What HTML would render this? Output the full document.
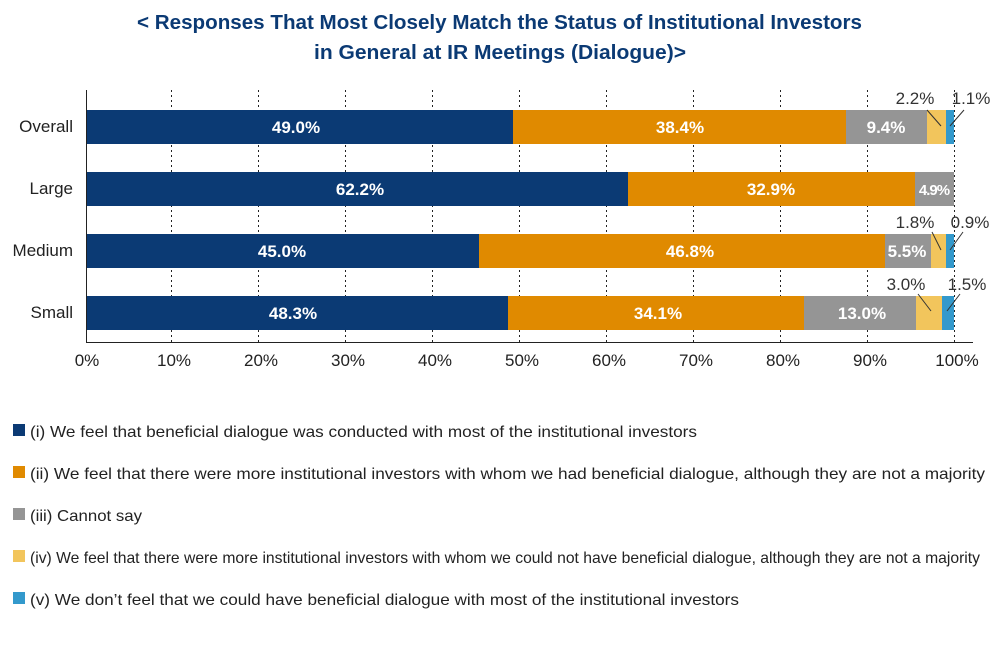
<!DOCTYPE html>
<html><head><meta charset="utf-8"><style>
body{margin:0;width:1000px;height:645px;background:#fff;font-family:"Liberation Sans",sans-serif;overflow:hidden}
</style></head><body>
<svg width="1000" height="645" xmlns="http://www.w3.org/2000/svg" font-family="Liberation Sans, sans-serif">
<text x="137" y="29" textLength="725" lengthAdjust="spacingAndGlyphs" font-size="20" font-weight="bold" fill="#0b3a74">&lt; Responses That Most Closely Match the Status of Institutional Investors</text>
<text x="314" y="59" textLength="372" lengthAdjust="spacingAndGlyphs" font-size="20" font-weight="bold" fill="#0b3a74">in General at IR Meetings (Dialogue)&gt;</text>
<g stroke="#222" stroke-dasharray="2,3" stroke-width="1">
<line x1="171.5" y1="90" x2="171.5" y2="342"/><line x1="258.5" y1="90" x2="258.5" y2="342"/><line x1="345.5" y1="90" x2="345.5" y2="342"/><line x1="432.5" y1="90" x2="432.5" y2="342"/><line x1="519.5" y1="90" x2="519.5" y2="342"/><line x1="606.5" y1="90" x2="606.5" y2="342"/><line x1="693.5" y1="90" x2="693.5" y2="342"/><line x1="780.5" y1="90" x2="780.5" y2="342"/><line x1="867.5" y1="90" x2="867.5" y2="342"/><line x1="954.5" y1="90" x2="954.5" y2="342"/>
</g>
<g>
<rect x="87" y="110" width="426" height="34" fill="#0b3a74"/><rect x="513" y="110" width="333" height="34" fill="#e08a00"/><rect x="846" y="110" width="81" height="34" fill="#959595"/><rect x="927" y="110" width="19" height="34" fill="#f2c55c"/><rect x="946" y="110" width="8" height="34" fill="#3399cc"/>
<rect x="87" y="172" width="541" height="34" fill="#0b3a74"/><rect x="628" y="172" width="287" height="34" fill="#e08a00"/><rect x="915" y="172" width="39" height="34" fill="#959595"/>
<rect x="87" y="234" width="392" height="34" fill="#0b3a74"/><rect x="479" y="234" width="406" height="34" fill="#e08a00"/><rect x="885" y="234" width="46" height="34" fill="#959595"/><rect x="931" y="234" width="15" height="34" fill="#f2c55c"/><rect x="946" y="234" width="8" height="34" fill="#3399cc"/>
<rect x="87" y="296" width="421" height="34" fill="#0b3a74"/><rect x="508" y="296" width="296" height="34" fill="#e08a00"/><rect x="804" y="296" width="112" height="34" fill="#959595"/><rect x="916" y="296" width="26" height="34" fill="#f2c55c"/><rect x="942" y="296" width="12" height="34" fill="#3399cc"/>
</g>
<g fill="#fff" font-size="17" font-weight="bold" text-anchor="middle">
<text x="296" y="133">49.0%</text><text x="680" y="133">38.4%</text><text x="886" y="133">9.4%</text>
<text x="360" y="195">62.2%</text><text x="771" y="195">32.9%</text><text x="934" y="195" font-size="15" letter-spacing="-1">4.9%</text>
<text x="282" y="257">45.0%</text><text x="690" y="257">46.8%</text><text x="907" y="257">5.5%</text>
<text x="293" y="319">48.3%</text><text x="658" y="319">34.1%</text><text x="862" y="319">13.0%</text>
</g>
<g fill="#333" font-size="17" text-anchor="middle">
<text x="915" y="104">2.2%</text><text x="971" y="104">1.1%</text>
<text x="915" y="228">1.8%</text><text x="970" y="228">0.9%</text>
<text x="906" y="290">3.0%</text><text x="967" y="290">1.5%</text>
</g>
<g stroke="#333" stroke-width="1">
<line x1="927" y1="110" x2="941" y2="126"/><line x1="964" y1="110" x2="950" y2="126"/>
<line x1="932" y1="232" x2="941" y2="250"/><line x1="963" y1="232" x2="950" y2="250"/>
<line x1="918" y1="294" x2="931" y2="311"/><line x1="960" y1="294" x2="947" y2="311"/>
</g>
<line x1="86.5" y1="90" x2="86.5" y2="342" stroke="#222"/>
<line x1="86" y1="342.5" x2="973" y2="342.5" stroke="#222"/>
<g font-size="17" fill="#222" text-anchor="end">
<text x="73" y="132">Overall</text><text x="73" y="194">Large</text><text x="73" y="256">Medium</text><text x="73" y="318">Small</text>
</g>
<g font-size="17" fill="#222" text-anchor="middle">
<text x="87" y="366">0%</text><text x="174" y="366">10%</text><text x="261" y="366">20%</text><text x="348" y="366">30%</text><text x="435" y="366">40%</text><text x="522" y="366">50%</text><text x="609" y="366">60%</text><text x="696" y="366">70%</text><text x="783" y="366">80%</text><text x="870" y="366">90%</text><text x="957" y="366">100%</text>
</g>
<g font-size="16" fill="#222">
<rect x="13" y="424" width="12" height="12" fill="#0b3a74"/><text x="30" y="437" textLength="667" lengthAdjust="spacingAndGlyphs">(i) We feel that beneficial dialogue was conducted with most of the institutional investors</text>
<rect x="13" y="466" width="12" height="12" fill="#e08a00"/><text x="30" y="479" textLength="955" lengthAdjust="spacingAndGlyphs">(ii) We feel that there were more institutional investors with whom we had beneficial dialogue, although they are not a majority</text>
<rect x="13" y="508" width="12" height="12" fill="#959595"/><text x="30" y="521" textLength="112" lengthAdjust="spacingAndGlyphs">(iii) Cannot say</text>
<rect x="13" y="550" width="12" height="12" fill="#f2c55c"/><text x="30" y="563" textLength="950" lengthAdjust="spacingAndGlyphs">(iv) We feel that there were more institutional investors with whom we could not have beneficial dialogue, although they are not a majority</text>
<rect x="13" y="592" width="12" height="12" fill="#3399cc"/><text x="30" y="605" textLength="709" lengthAdjust="spacingAndGlyphs">(v) We don’t feel that we could have beneficial dialogue with most of the institutional investors</text>
</g>
</svg>
</body></html>
